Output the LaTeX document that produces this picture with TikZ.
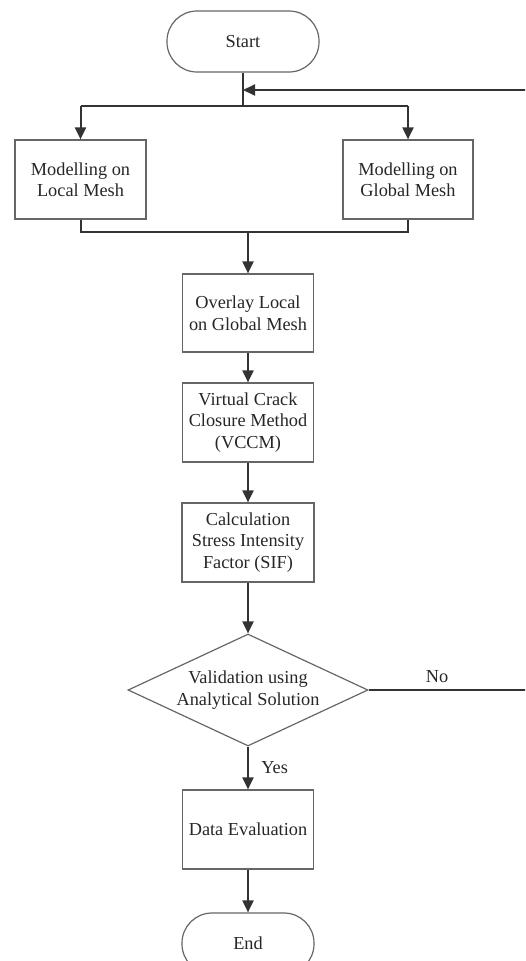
\documentclass[tikz,border=0pt]{standalone}
\usepackage{fontspec}
\setmainfont{Liberation Serif}
\usetikzlibrary{shapes.geometric,arrows.meta}
\definecolor{linec}{HTML}{333333}
\definecolor{boxc}{HTML}{666666}
\tikzset{
  base/.style={draw=boxc, line width=1.2pt, align=center, inner sep=0pt,
    font=\fontsize{18.3pt}{21.5pt}\selectfont, text=black!85},
  procbox/.style={base, rectangle, minimum width=131pt, minimum height=79pt},
  termbox/.style={base, rectangle, rounded corners=30pt, minimum width=152pt, minimum height=61pt},
  decbox/.style={base, diamond, minimum width=240pt, minimum height=112pt, aspect=2.14},
  conn/.style={draw=linec, line width=2pt},
  arr/.style={conn, -{Triangle[length=12pt,width=11pt]}},
  lbl/.style={font=\fontsize{18.3pt}{21.5pt}\selectfont, text=black!85}
}
\begin{document}
\begin{tikzpicture}[x=1pt,y=-1pt]
\useasboundingbox (0,0) rectangle (525,961);
\clip (0,0) rectangle (525,961);
\node[termbox] (start) at (243,41.5) {Start};
\node[procbox] (local) at (80.5,179.5) {Modelling on\\Local Mesh};
\node[procbox, minimum width=130pt] (global) at (408,179.5) {Modelling on\\Global Mesh};
\node[procbox, minimum height=78pt] (overlay) at (248,313) {Overlay Local\\on Global Mesh};
\node[procbox] (vccm) at (248,422.5) {Virtual Crack\\Closure Method\\(VCCM)};
\node[procbox, minimum width=132pt] (sif) at (248,542.5) {Calculation\\Stress Intensity\\Factor (SIF)};
\node[decbox] (dec) at (248,690) {Validation using\\Analytical Solution};
\node[procbox] (data) at (248,829.5) {Data Evaluation};
\node[termbox, minimum width=132pt] (end) at (248,943.5) {End};

\coordinate (split) at (243,106);
\coordinate (fb) at (243,90);
\coordinate (merge) at (248,232);
\coordinate (far) at (540,690);

\draw[conn] (start.south) -- (split);
\draw[conn] (local.north |- split) -- (global.north |- split);
\draw[arr] (local.north |- split) -- (local.north);
\draw[arr] (global.north |- split) -- (global.north);
\draw[conn] (local.south) -- (local.south |- merge) -- (global.south |- merge) -- (global.south);
\draw[arr] (merge) -- (overlay.north);
\draw[arr] (overlay) -- (vccm);
\draw[arr] (vccm) -- (sif);
\draw[arr] (sif.south) -- (dec.north);
\draw[arr] (dec.south) -- node[lbl, right=9pt, pos=0.5] (yes) {Yes} (data.north);
\draw[arr] (data) -- (end);
\draw[arr] (dec.east) -- (far) |- (fb);
\node[lbl] (no) at (437,677) {No};
\end{tikzpicture}
\end{document}
